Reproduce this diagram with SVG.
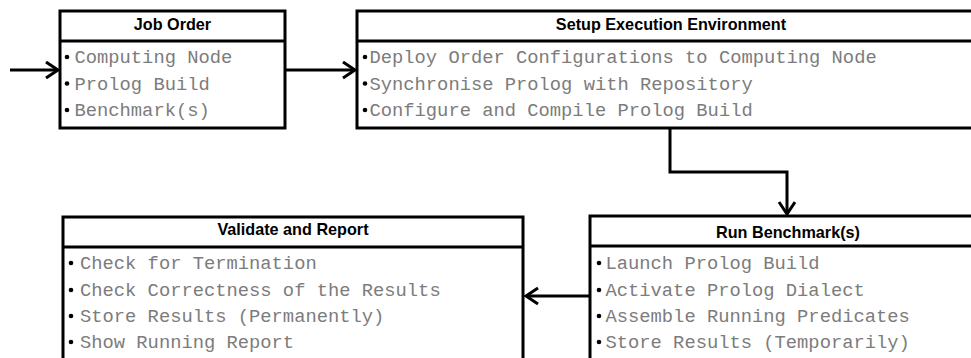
<svg xmlns="http://www.w3.org/2000/svg" width="971" height="358" viewBox="0 0 971 358">
<defs>
<style>
.box{fill:#fff;stroke:#000;stroke-width:3}
.sep{stroke:#000;stroke-width:3}
.hd{font-family:"Liberation Sans",Arial,sans-serif;font-weight:bold;font-size:16.2px;fill:#000;text-anchor:middle}
.it{font-family:"Liberation Mono","Courier New",monospace;font-size:18.8px;fill:#7c7c7c}
.bl{fill:#000}
.cn{fill:none;stroke:#000;stroke-width:3}
</style>
<marker id="ah" markerWidth="16" markerHeight="20" refX="13" refY="9" orient="auto" markerUnits="userSpaceOnUse">
<path d="M1,1 L13,9 L1,17" fill="none" stroke="#000" stroke-width="3"/>
</marker>
</defs>
<rect width="971" height="358" fill="#fff"/>
<g id="connectors">
<line class="cn" x1="10" y1="70" x2="58" y2="70" marker-end="url(#ah)"/>
<line class="cn" x1="285" y1="70" x2="355" y2="70" marker-end="url(#ah)"/>
<polyline class="cn" points="670,128 670,172 787,172 787,214" marker-end="url(#ah)"/>
<line class="cn" x1="590" y1="296" x2="526" y2="296" marker-end="url(#ah)"/>
</g>
<g id="job-order">
<rect class="box" x="60" y="11" width="225" height="117"/>
<line class="sep" x1="60" y1="41" x2="285" y2="41"/>
<text class="hd" x="172.5" y="30">Job Order</text>
<circle class="bl" cx="67" cy="57" r="2.3"/>
<text class="it" x="74.5" y="63">Computing Node</text>
<circle class="bl" cx="67" cy="83.5" r="2.3"/>
<text class="it" x="74.5" y="89.5">Prolog Build</text>
<circle class="bl" cx="67" cy="110" r="2.3"/>
<text class="it" x="74.5" y="116">Benchmark(s)</text>
</g>
<g id="setup">
<rect class="box" x="357" y="11" width="630" height="117"/>
<line class="sep" x1="357" y1="41" x2="987" y2="41"/>
<text class="hd" x="671" y="30">Setup Execution Environment</text>
<circle class="bl" cx="365" cy="57" r="2.3"/>
<text class="it" x="369.5" y="63">Deploy Order Configurations to Computing Node</text>
<circle class="bl" cx="365" cy="83.5" r="2.3"/>
<text class="it" x="369.5" y="89.5">Synchronise Prolog with Repository</text>
<circle class="bl" cx="365" cy="110" r="2.3"/>
<text class="it" x="369.5" y="116">Configure and Compile Prolog Build</text>
</g>
<g id="run-benchmarks">
<rect class="box" x="590" y="216" width="396" height="160"/>
<line class="sep" x1="590" y1="246" x2="986" y2="246"/>
<text class="hd" x="788" y="238">Run Benchmark(s)</text>
<circle class="bl" cx="599" cy="263" r="2.3"/>
<text class="it" x="605.5" y="268.5">Launch Prolog Build</text>
<circle class="bl" cx="599" cy="290" r="2.3"/>
<text class="it" x="605.5" y="295.5">Activate Prolog Dialect</text>
<circle class="bl" cx="599" cy="316" r="2.3"/>
<text class="it" x="605.5" y="322">Assemble Running Predicates</text>
<circle class="bl" cx="599" cy="342" r="2.3"/>
<text class="it" x="605.5" y="348">Store Results (Temporarily)</text>
</g>
<g id="validate-report">
<rect class="box" x="63" y="217" width="460" height="160"/>
<line class="sep" x1="63" y1="247" x2="523" y2="247"/>
<text class="hd" x="293" y="235">Validate and Report</text>
<circle class="bl" cx="71" cy="263" r="2.3"/>
<text class="it" x="80" y="268.5">Check for Termination</text>
<circle class="bl" cx="71" cy="290" r="2.3"/>
<text class="it" x="80" y="295.5">Check Correctness of the Results</text>
<circle class="bl" cx="71" cy="316" r="2.3"/>
<text class="it" x="80" y="322">Store Results (Permanently)</text>
<circle class="bl" cx="71" cy="342" r="2.3"/>
<text class="it" x="80" y="348">Show Running Report</text>
</g>
</svg>
